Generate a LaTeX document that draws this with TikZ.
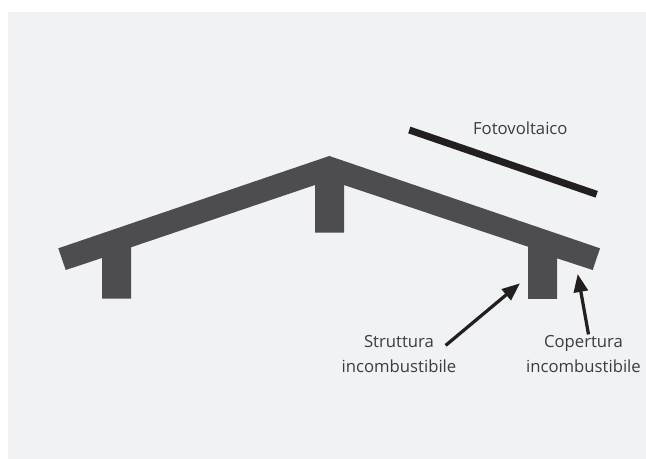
\documentclass[tikz,border=0pt]{standalone}
\usepackage{fontspec}
\setmainfont{Open Sans}
\definecolor{panelbg}{HTML}{F1F2F4}
\definecolor{roofgray}{HTML}{4D4D4F}
\definecolor{inkblack}{HTML}{231F20}
\definecolor{textgray}{HTML}{3C3C3E}
\usetikzlibrary{arrows.meta}
\begin{document}
\begin{tikzpicture}[x=0.02cm,y=-0.02cm]
  \tikzstyle{roof} = [fill=roofgray]
  \tikzstyle{pvline} = [draw=inkblack, line width = 0.14cm]
  \tikzstyle{label} = [text=textgray, font=\fontsize{9.5}{13.8}\selectfont, align=center, inner sep=0pt]
  \tikzstyle{arrow} = [-{Triangle[length=0.36cm,width=0.28cm]}, draw=inkblack, fill=inkblack, line width = 0.065cm]

  \useasboundingbox (0,0) rectangle (646,459);
  \fill[white] (0,0) rectangle (646,459);
  \fill[panelbg] (8,12) rectangle (652,465);

  % roof
  \fill[roof] (58.3,248.3) -- (329.3,156) -- (600,248.3) -- (592.7,270) -- (557,258.3) -- (557,299) -- (528,299) -- (528,246.7) -- (344,185) -- (344,232.7) -- (315,232.7) -- (315,185) -- (131,247.3) -- (131,298.7) -- (102,298.7) -- (102,258) -- (65.7,270) -- cycle;
  \draw[pvline] (409.3,130) -- (596.7,194.3);

  \node [label] at (520.3,128) (fotovoltaico) {Fotovoltaico};
  \node [label] at (399,354) (struttura) {Struttura\\incombustibile};
  \node [label] at (583.5,354) (copertura) {Copertura\\incombustibile};

  \coordinate (struttura_tip) at (520,283.3);
  \coordinate (copertura_tip) at (577.7,274);

  \draw[arrow] ([shift={(-11,10)}]struttura.north east) -- (struttura_tip);
  \draw[arrow] ([shift={(5,-1)}]copertura.north) -- (copertura_tip);
\end{tikzpicture}
\end{document}
